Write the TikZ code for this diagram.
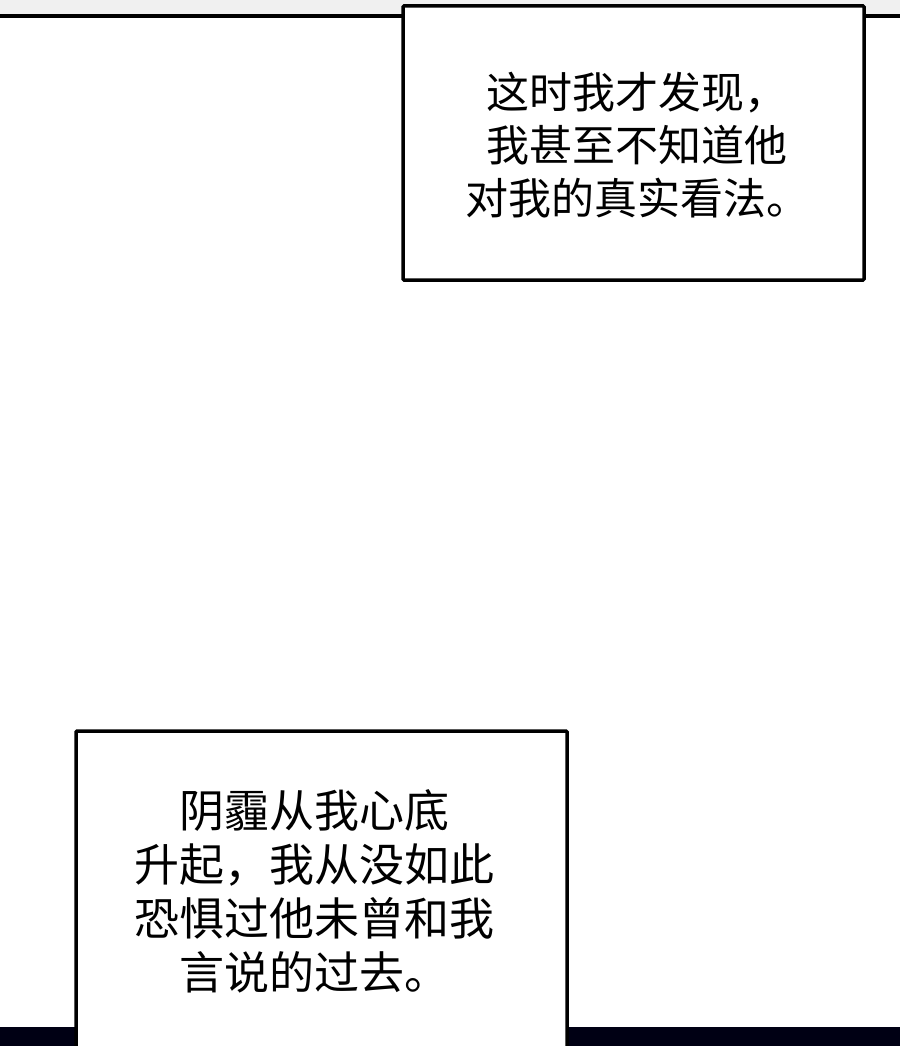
\documentclass[tikz,border=0pt]{standalone}
\usepackage{fontspec}
\newfontfamily\cjk{Noto Sans CJK SC}
\begin{document}
\begin{tikzpicture}[x=1pt,y=-1pt,
 box/.style={draw=black,line width=3.5pt,fill=white,rounded corners=1pt},
 txt/.style={align=center,font=\cjk\fontsize{43}{53}\selectfont}]
\useasboundingbox (0,0) rectangle (900,1046);
\fill[white] (0,0) rectangle (900,1046);
\fill[gray!12] (0,0) rectangle (900,15);
\fill[black] (0,14) rectangle (900,18);
\fill[black!92!blue] (0,1027) rectangle (900,1046);
\draw[box] (403,6) rectangle (864,280);
\node[txt] (t1) at (637,145) {这时我才发现，\\我甚至不知道他\\对我的真实看法。};
\draw[box] (76,731) rectangle (567,1052);
\node[txt,font=\cjk\fontsize{45}{54}\selectfont] (t2) at (314,891) {阴霾从我心底\\升起，我从没如此\\恐惧过他未曾和我\\言说的过去。};
\end{tikzpicture}
\end{document}
